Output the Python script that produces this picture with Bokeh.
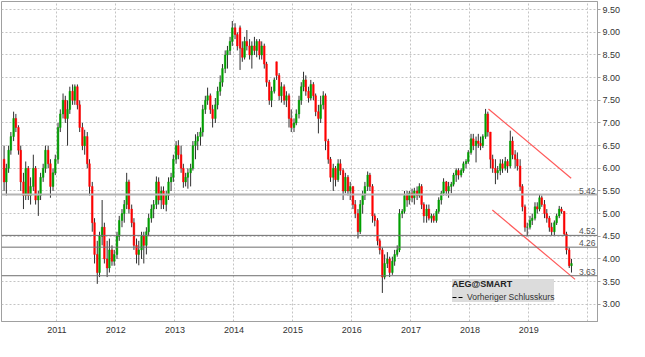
import pandas as pd
from bokeh.plotting import figure
from bokeh.models import (ColumnDataSource, Range1d, FixedTicker, NumeralTickFormatter,
                          DatetimeTickFormatter, Span, Label, Legend, LegendItem)
from bokeh.embed import file_html
from bokeh.resources import INLINE

# ---- data: half-month candles, Feb 2010 .. Sep 2019 ----
opens = [
    6.2,5.7,6.0,6.4,6.7,7.1,6.9,6.4,5.7,5.4,6.0,5.4,5.6,6.0,5.3,5.4,5.8,6.0,6.4,6.1,5.6,5.9,  # 2010
    6.2,6.9,7.2,7.5,7.1,7.3,7.7,7.5,7.8,7.4,6.9,6.5,6.7,6.1,5.6,4.8,4.1,3.7,4.5,4.7,4.0,3.8,4.2,3.95,  # 2011
    4.1,4.5,4.85,5.0,5.2,5.7,5.1,4.8,4.3,4.1,4.2,4.5,4.3,4.6,4.9,5.1,5.2,5.7,5.3,5.5,5.2,5.4,5.7,5.8,  # 2012
    6.2,6.5,6.3,6.0,5.7,5.8,5.9,6.0,6.5,6.6,6.7,6.8,7.3,7.5,7.6,7.3,7.1,7.4,7.7,7.9,8.2,8.5,8.6,8.8,  # 2013
    9.1,8.95,9.1,8.65,8.45,8.8,8.7,8.5,8.7,8.6,8.8,8.5,8.7,8.3,7.9,7.5,7.7,8.35,8.05,7.6,7.8,7.5,7.6,7.1,  # 2014
    6.9,7.0,7.2,7.5,7.8,7.95,7.7,7.55,7.85,7.6,7.25,7.1,7.4,7.6,6.6,6.2,5.8,6.0,5.75,6.1,5.95,5.5,5.8,5.5,  # 2015
    5.6,5.2,5.0,4.6,5.2,5.4,5.6,5.85,5.6,4.95,4.85,4.4,4.2,3.6,3.9,4.0,3.7,3.95,4.1,4.2,5.0,5.05,5.4,5.3,  # 2016
    5.45,5.35,5.5,5.4,5.6,5.2,4.95,5.1,4.9,4.95,4.85,5.05,5.3,5.45,5.7,5.5,5.6,5.65,5.85,5.95,5.85,5.95,6.1,6.15,  # 2017
    6.35,6.65,6.5,6.6,6.55,6.5,6.7,7.2,6.8,6.2,6.0,5.9,5.95,6.1,6.0,6.15,6.05,6.6,6.3,6.2,6.05,5.6,5.15,4.7,  # 2018
    4.7,4.85,4.9,5.15,5.1,5.35,5.2,5.0,4.9,4.7,4.6,4.8,4.95,5.1,5.05,4.55,4.2,3.85,  # 2019
]
highs = [
    6.5,6.1,6.5,6.8,7.25,7.2,6.95,6.5,5.9,6.15,6.05,5.8,6.3,6.05,5.5,5.9,6.1,6.5,6.5,6.2,6.0,6.3,
    7.0,7.3,7.65,7.6,7.5,7.8,7.85,7.85,7.85,7.5,7.0,6.85,6.8,6.2,5.7,4.9,4.4,4.6,5.3,4.8,4.4,4.45,4.3,4.2,
    4.6,4.95,5.1,5.3,5.9,5.75,5.2,4.9,4.45,4.4,4.6,4.6,4.7,5.0,5.2,5.3,5.82,5.8,5.6,5.6,5.5,5.8,5.9,6.3,
    6.6,6.62,6.5,6.1,5.9,6.0,6.1,6.6,6.75,6.8,6.9,7.4,7.6,7.78,7.65,7.4,7.55,7.8,8.05,8.3,8.6,8.7,8.9,9.25,
    9.2,9.0,9.15,8.8,8.9,9.05,8.85,8.8,8.9,8.85,8.85,8.8,8.75,8.35,7.95,7.8,8.0,8.35,8.1,7.9,7.85,7.7,7.65,7.3,
    7.1,7.3,7.6,7.9,8.13,8.05,7.8,7.95,7.9,7.65,7.4,7.6,7.7,7.65,6.65,6.25,6.1,6.05,6.2,6.2,6.0,5.9,5.85,5.7,
    5.6,5.3,5.1,5.3,5.5,5.7,5.93,5.9,5.65,5.0,4.9,4.45,4.25,4.1,4.15,4.05,4.05,4.2,4.3,5.1,5.1,5.5,5.5,5.5,
    5.55,5.57,5.6,5.67,5.65,5.25,5.2,5.2,5.0,5.0,5.1,5.36,5.5,5.78,5.72,5.7,5.7,5.9,6.0,6.0,6.0,6.15,6.2,6.4,
    6.76,6.76,6.7,6.76,6.7,6.75,7.31,7.25,6.8,6.3,6.2,6.05,6.2,6.2,6.25,6.2,6.83,6.7,6.4,6.35,6.2,5.65,5.2,4.8,
    4.95,5.0,5.25,5.25,5.42,5.4,5.3,5.1,4.95,4.8,4.85,5.0,5.17,5.15,5.05,4.6,4.25,4.0,
]
lows = [
    5.5,5.4,5.9,6.3,6.6,6.8,6.3,5.5,5.1,5.3,5.3,5.2,5.5,5.2,4.95,5.3,5.7,5.9,6.0,5.35,5.5,5.85,
    6.1,6.8,7.1,7.0,6.5,7.2,7.4,7.4,7.3,6.8,6.4,6.3,6.0,5.4,4.6,3.9,3.45,3.6,4.3,3.9,3.6,3.7,3.85,3.85,
    4.0,4.4,4.7,4.8,5.1,5.0,4.7,4.2,3.9,3.86,4.0,3.9,4.1,4.5,4.8,4.9,5.1,5.2,5.1,5.1,5.05,5.3,5.5,5.7,
    6.1,6.2,5.9,5.57,5.6,5.55,5.6,5.95,6.2,6.4,6.5,6.7,7.2,7.4,7.2,6.9,7.0,7.3,7.6,7.8,8.1,8.2,8.5,8.7,
    8.85,8.6,8.17,8.35,8.4,8.6,8.4,8.2,8.5,8.45,8.4,8.4,8.2,7.8,7.4,7.35,7.65,7.95,7.5,7.45,7.4,7.35,6.9,6.8,
    6.8,6.95,7.1,7.4,7.7,7.6,7.45,7.5,7.5,7.15,6.77,7.0,7.3,6.4,6.1,5.7,5.5,5.6,5.7,5.85,5.3,5.45,5.4,5.3,
    5.1,4.9,4.45,4.55,5.0,5.3,5.5,5.5,4.8,4.72,4.3,4.1,3.25,3.55,3.8,3.6,3.65,3.85,4.05,4.15,4.9,5.0,5.15,5.2,
    5.25,5.2,5.3,5.35,5.1,4.8,4.8,4.85,4.8,4.8,4.8,5.0,5.2,5.4,5.4,5.35,5.45,5.6,5.7,5.75,5.8,5.9,6.0,6.1,
    6.3,6.4,6.13,6.45,6.4,6.45,6.65,6.7,6.0,5.9,5.65,5.75,5.85,5.9,5.95,5.9,6.0,6.2,6.0,5.95,5.5,5.05,4.6,4.5,
    4.65,4.75,4.85,5.0,5.05,5.15,4.9,4.8,4.6,4.52,4.52,4.75,4.9,5.0,4.52,4.1,3.8,3.7,
]
closes = [
    5.7,6.0,6.4,6.7,7.1,6.9,6.4,5.7,5.4,6.0,5.4,5.6,6.0,5.3,5.4,5.8,6.0,6.4,6.1,5.6,5.9,6.2,
    6.9,7.2,7.5,7.1,7.3,7.7,7.5,7.8,7.4,6.9,6.5,6.7,6.1,5.6,4.8,4.1,3.7,4.5,4.7,4.0,3.8,4.2,3.95,4.1,
    4.5,4.85,5.0,5.2,5.7,5.1,4.8,4.3,4.1,4.2,4.5,4.3,4.6,4.9,5.1,5.2,5.7,5.3,5.5,5.2,5.4,5.7,5.8,6.2,
    6.5,6.3,6.0,5.7,5.8,5.9,6.0,6.5,6.6,6.7,6.8,7.3,7.5,7.6,7.3,7.1,7.4,7.7,7.9,8.2,8.5,8.6,8.8,9.1,
    8.95,8.7,8.65,8.45,8.8,8.7,8.5,8.7,8.6,8.8,8.5,8.7,8.3,7.9,7.5,7.7,7.95,8.05,7.6,7.8,7.5,7.6,7.1,6.9,
    7.0,7.2,7.5,7.8,7.95,7.7,7.55,7.85,7.6,7.25,7.1,7.4,7.6,6.6,6.2,5.8,6.0,5.75,6.1,5.95,5.5,5.8,5.5,5.6,
    5.2,5.0,4.6,5.2,5.4,5.6,5.85,5.6,4.95,4.85,4.4,4.2,3.6,3.9,4.0,3.7,3.95,4.1,4.2,5.0,5.05,5.4,5.3,5.45,
    5.35,5.5,5.4,5.6,5.2,4.95,5.1,4.9,4.95,4.85,5.05,5.3,5.45,5.7,5.5,5.6,5.65,5.85,5.95,5.85,5.95,6.1,6.15,6.35,
    6.65,6.5,6.6,6.55,6.5,6.7,7.2,6.8,6.2,6.0,5.9,5.95,6.1,6.0,6.15,6.05,6.6,6.3,6.2,6.05,5.6,5.15,4.7,4.7,
    4.85,4.9,5.15,5.1,5.35,5.2,5.0,4.9,4.7,4.6,4.8,4.95,5.1,5.05,4.55,4.2,3.85,3.9,
]

levels = [5.42, 4.52, 4.26, 3.63]
level_labels = ["5.42", "4.52", "4.26", "3.63"]
level_colors = ["#b4b4b4", "#6e6e6e", "#6e6e6e", "#6e6e6e"]
level_widths = [2, 1, 1, 1]

trend_upper_dates = ["2018-04-26", "2019-09-20"]
trend_upper_vals = [7.31, 5.78]
trend_lower_dates = ["2018-05-20", "2019-10-14"]
trend_lower_vals = [5.08, 3.55]

year_ticks = [2011, 2012, 2013, 2014, 2015, 2016, 2017, 2018, 2019]
grid_years = year_ticks + [2020]
price_ticks = [3.0, 3.5, 4.0, 4.5, 5.0, 5.5, 6.0, 6.5, 7.0, 7.5, 8.0, 8.5, 9.0, 9.5]

n = len(closes)
assert len(opens) == n and len(highs) == n and len(lows) == n

dates = pd.date_range("2010-02-01", periods=n, freq="SMS") + pd.Timedelta(days=7)
src = ColumnDataSource(dict(
    date=dates,
    high=highs, low=lows,
    top=[max(o, c) for o, c in zip(opens, closes)],
    bottom=[min(o, c) for o, c in zip(opens, closes)],
    color=["#00a000" if c >= o else "#ff0000" for o, c in zip(opens, closes)],
))

def ms(d):
    return pd.Timestamp(d).value // 10**6

x_start = ms("2010-01-23")
x_end = ms("2020-03-01")

FONT = "Liberation Sans"
p = figure(width=629, height=341, x_axis_type="datetime", y_axis_location="right",
           x_range=Range1d(x_start, x_end), y_range=Range1d(2.62, 9.68),
           output_backend="svg", toolbar_location=None,
           min_border_left=1, min_border_top=1, min_border_right=32, min_border_bottom=20)
p.background_fill_color = "white"
p.outline_line_color = "#a0a0a0"

# grid
p.xgrid.ticker = FixedTicker(ticks=[ms(f"{y}-01-01") for y in grid_years])
p.ygrid.ticker = FixedTicker(ticks=price_ticks)
for g in (p.xgrid, p.ygrid):
    g.grid_line_color = "#c4c4c4"
    g.grid_line_dash = "2 2"
    g.grid_line_width = 1

# axes
p.xaxis.ticker = FixedTicker(ticks=[ms(f"{y}-01-01") for y in year_ticks])
p.xaxis.formatter = DatetimeTickFormatter(years="%Y", months="%Y", days="%Y", hours="%Y",
                                          minutes="%Y", seconds="%Y", milliseconds="%Y")
p.yaxis.ticker = FixedTicker(ticks=price_ticks)
p.yaxis.formatter = NumeralTickFormatter(format="0.00")
for ax in (p.xaxis, p.yaxis):
    ax.axis_line_color = "#a0a0a0"
    ax.major_label_text_font = FONT
    ax.major_label_text_font_size = "9px"
    ax.major_label_text_color = "#333333"
    ax.minor_tick_line_color = None
    ax.major_tick_line_color = "#a0a0a0"
    ax.major_tick_in = 0
p.xaxis.major_tick_out = 0
p.xaxis.major_label_standoff = 5
p.yaxis.major_tick_out = 3
p.yaxis.major_label_standoff = 2

# level lines
for lvl, lbl, col, w in zip(levels, level_labels, level_colors, level_widths):
    p.add_layout(Span(location=lvl, dimension="width", line_color=col, line_width=w))
    p.add_layout(Label(x=x_end, y=lvl, text=lbl, text_align="right", text_baseline="bottom",
                       x_offset=-2, y_offset=1, text_font=FONT, text_font_size="8.5px",
                       text_color="#555555"))

# candles
p.segment(x0="date", y0="low", x1="date", y1="high", source=src, line_color="#303030", line_width=1)
p.vbar(x="date", width=10 * 86400000, top="top", bottom="bottom", source=src,
       fill_color="color", line_color="color", line_width=0.5)

# trend lines
p.line(x=pd.to_datetime(trend_upper_dates), y=trend_upper_vals, line_color="#ff5a5a", line_width=1.2)
p.line(x=pd.to_datetime(trend_lower_dates), y=trend_lower_vals, line_color="#ff5a5a", line_width=1.2)

# legend (glyph-only renderer placed far outside the visible range)
dummy_src = ColumnDataSource(dict(x=[x_start - 10**12, x_start - 10**12 + 1], y=[0.0, 0.0]))
dummy = p.line(x="x", y="y", source=dummy_src, line_color="black", line_dash="4 2", line_width=1.2)
legend = Legend(items=[LegendItem(label="Vorheriger Schlusskurs", renderers=[dummy])],
                title="AEG@SMART", location=(451, 19),
                background_fill_color="#dcdcdc", background_fill_alpha=1.0,
                inactive_fill_alpha=0.0,
                border_line_color=None, title_text_font=FONT, title_text_font_style="bold",
                title_text_font_size="9px", title_text_color="#222222",
                label_text_font=FONT, label_text_font_size="8.5px", label_text_color="#333333",
                glyph_width=12, glyph_height=10, label_height=10, label_standoff=3,
                padding=5, spacing=0, margin=0, title_standoff=3)
p.add_layout(legend)

open("out.html", "w").write(file_html(p, INLINE))
